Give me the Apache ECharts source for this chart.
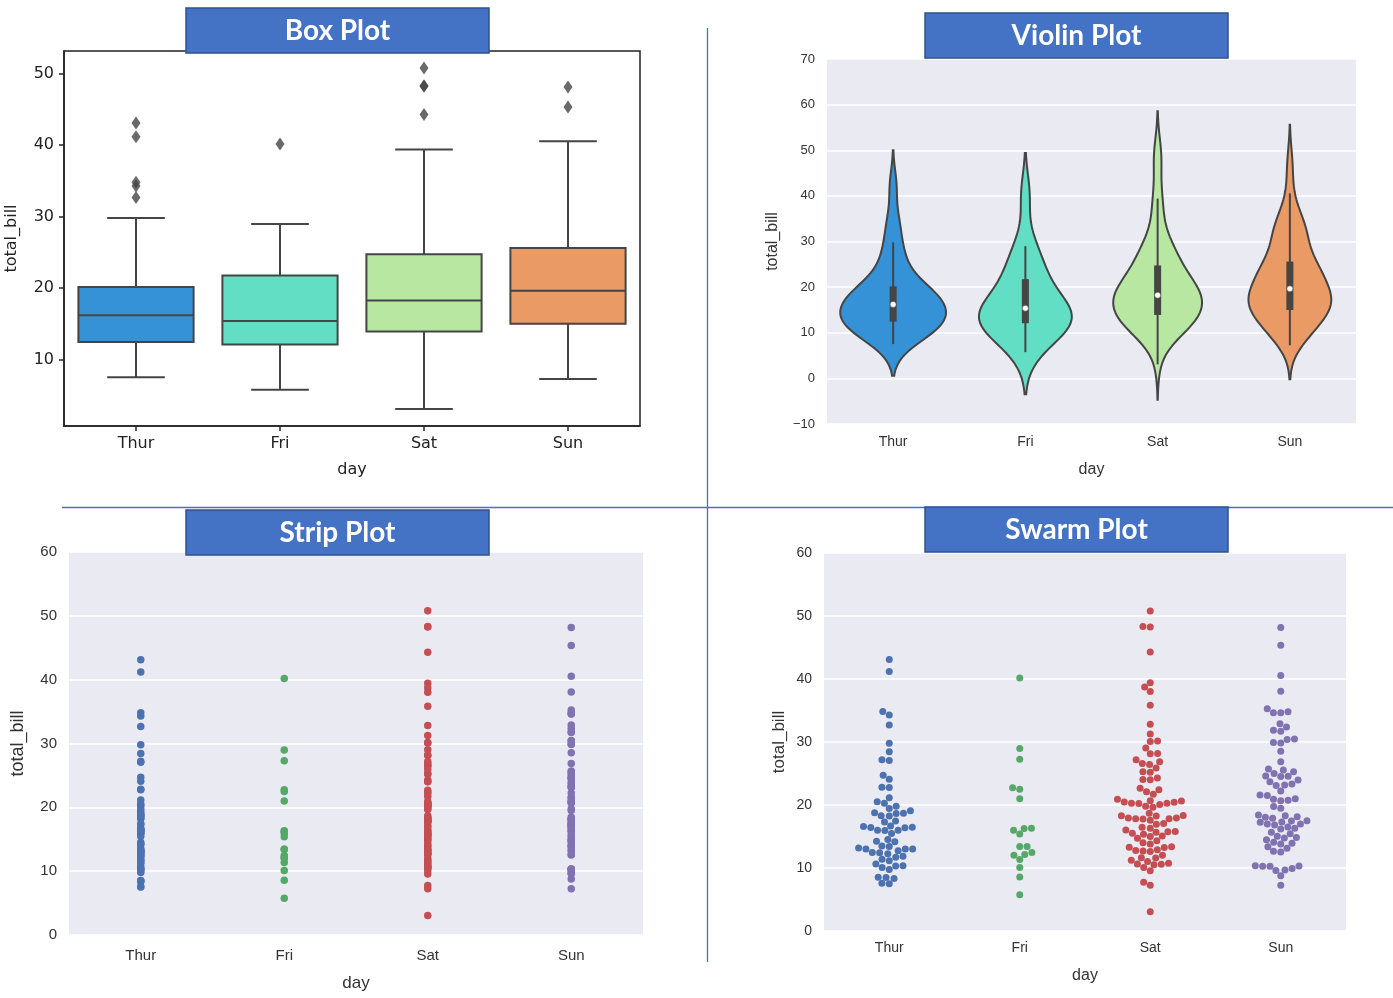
<!DOCTYPE html>
<html>
<head>
<meta charset="utf-8">
<title>Box / Violin / Strip / Swarm</title>
<script src="https://cdn.jsdelivr.net/npm/echarts@6/dist/echarts.min.js"></script>
<style>
    html, body { margin: 0; padding: 0; background: #fff; }
    #main { width: 1393px; height: 998px; }
</style>
</head>
<body>
<div id="main"></div>
<script>
// tips dataset, total_bill per day
const days = ['Thur', 'Fri', 'Sat', 'Sun'];

const thur = [27.20, 22.76, 17.29, 19.44, 16.66, 10.07, 32.68, 15.98, 34.83, 13.03, 18.28, 24.71, 21.16,
    10.65, 12.43, 24.08, 11.69, 13.42, 14.26, 15.95, 12.48, 29.80, 8.52, 14.52, 11.38, 22.82, 19.08, 20.27,
    11.17, 12.26, 18.26, 8.51, 10.33, 14.15, 16.00, 13.16, 17.47, 34.30, 41.19, 27.05, 16.43, 8.35, 18.64,
    11.87, 9.78, 7.51, 19.81, 28.44, 15.48, 16.58, 7.56, 10.34, 43.11, 13.00, 13.51, 18.71, 12.74, 13.00,
    16.40, 20.53, 16.47, 18.78];

const fri = [28.97, 22.49, 5.75, 16.32, 22.75, 40.17, 27.28, 12.03, 21.01, 12.46, 11.35, 15.38,
    12.16, 13.42, 8.58, 15.98, 13.42, 16.27, 10.09];

const sat = [20.65, 17.92, 20.29, 15.77, 39.42, 19.82, 17.81, 13.37, 12.69, 21.70, 19.65, 9.55, 18.35,
    15.06, 20.69, 17.78, 24.06, 16.31, 16.93, 18.69, 31.27, 16.04, 38.01, 26.41, 11.24, 48.27, 20.29,
    13.81, 11.02, 18.29, 17.59, 20.08, 16.45, 3.07, 20.23, 15.01, 12.02, 17.07, 26.86, 25.28, 14.73,
    10.51, 17.92, 44.30, 22.42, 20.92, 15.36, 20.49, 25.21, 18.24, 14.31, 14.00, 7.25, 10.59, 10.63,
    50.81, 15.81, 26.59, 38.73, 24.27, 12.76, 30.06, 25.89, 48.33, 13.27, 28.17, 12.90, 28.15, 11.59,
    7.74, 30.14, 20.45, 13.28, 22.12, 24.01, 15.69, 11.61, 10.77, 15.53, 10.07, 12.60, 32.83, 35.83,
    29.03, 27.18, 22.67, 17.82];

const sun = [16.99, 10.34, 21.01, 23.68, 24.59, 25.29, 8.77, 26.88, 15.04, 14.78, 10.27, 35.26, 15.42,
    18.43, 14.83, 21.58, 10.33, 16.29, 16.97, 17.46, 13.94, 9.68, 30.40, 18.29, 22.23, 32.40, 28.55,
    18.04, 12.54, 10.29, 34.81, 9.94, 25.56, 19.49, 38.07, 23.95, 25.71, 17.31, 29.93, 14.07, 13.13,
    17.26, 24.55, 19.77, 29.85, 48.17, 25.00, 13.39, 16.49, 21.50, 12.66, 16.21, 13.81, 17.51, 24.52,
    20.76, 31.71, 7.25, 31.85, 16.82, 32.90, 17.89, 14.48, 9.60, 34.63, 34.65, 23.33, 45.35, 23.17,
    40.55, 20.69, 20.90, 30.46, 18.15, 23.10, 15.69];

const boxTicks = [10, 20, 30, 40, 50];
const panelTitles = ['Box Plot', 'Violin Plot', 'Strip Plot', 'Swarm Plot'];

const groups = [thur, fri, sat, sun];
const rainbow = ['#3592d7', '#61dec3', '#b7e7a1', '#e99a65'];
const deep = ['#4c72b0', '#55a868', '#c44e52', '#8172b2'];
const gray = '#454545';

// --- stats helpers (numpy-style linear percentiles, scott kde) ---
function quantile(sorted, p) {
    var pos = (sorted.length - 1) * p;
    var lo = Math.floor(pos), hi = Math.ceil(pos);
    return sorted[lo] + (sorted[hi] - sorted[lo]) * (pos - lo);
}

function boxStats(values) {
    var s = values.slice().sort(function (a, b) { return a - b; });
    var q1 = quantile(s, 0.25), q2 = quantile(s, 0.5), q3 = quantile(s, 0.75);
    var lim = 1.5 * (q3 - q1);
    var inside = s.filter(function (v) { return v >= q1 - lim && v <= q3 + lim; });
    return {
        q1: q1, q2: q2, q3: q3,
        lo: inside[0], hi: inside[inside.length - 1],
        out: s.filter(function (v) { return v < q1 - lim || v > q3 + lim; })
    };
}

function kde(values) {
    var n = values.length;
    var mean = values.reduce(function (a, b) { return a + b; }, 0) / n;
    var sd = Math.sqrt(values.reduce(function (a, v) { return a + (v - mean) * (v - mean); }, 0) / (n - 1));
    var bw = sd * Math.pow(n, -0.2);
    var lo = Math.min.apply(null, values) - 2 * bw;
    var hi = Math.max.apply(null, values) + 2 * bw;
    var pts = [];
    for (var k = 0; k < 100; k++) {
        var y = lo + (hi - lo) * k / 99;
        var d = 0;
        values.forEach(function (v) {
            var z = (y - v) / bw;
            d += Math.exp(-0.5 * z * z);
        });
        pts.push([y, d / (n * bw * Math.sqrt(2 * Math.PI))]);
    }
    return pts;
}

const stats = groups.map(boxStats);
const curves = groups.map(kde);
const maxDensity = Math.max.apply(null, curves.map(function (c) {
    return Math.max.apply(null, c.map(function (p) { return p[1]; }));
}));

// --- custom renderers ---
function renderBox(params, api) {
    var i = api.value(0);
    var st = stats[i];
    var band = api.size([1, 0])[0];
    var cx = api.coord([i, st.q2])[0];
    var y = function (v) { return api.coord([i, v])[1]; };
    var half = band * 0.4, cap = band * 0.2;
    var line = function (x1, y1, x2, y2) {
        return { type: 'line', shape: { x1: x1, y1: y1, x2: x2, y2: y2 },
            style: { stroke: gray, lineWidth: 2 } };
    };
    return {
        type: 'group',
        children: [
            line(cx, y(st.q3), cx, y(st.hi)),
            line(cx, y(st.q1), cx, y(st.lo)),
            line(cx - cap, y(st.hi), cx + cap, y(st.hi)),
            line(cx - cap, y(st.lo), cx + cap, y(st.lo)),
            {
                type: 'rect',
                shape: { x: cx - half, y: y(st.q3), width: half * 2, height: y(st.q1) - y(st.q3) },
                style: { fill: rainbow[i], stroke: gray, lineWidth: 2 }
            },
            line(cx - half, y(st.q2), cx + half, y(st.q2))
        ]
    };
}

function renderViolin(params, api) {
    var i = api.value(0);
    var st = stats[i];
    var band = api.size([1, 0])[0];
    var cx = api.coord([i, st.q2])[0];
    var left = [], right = [];
    curves[i].forEach(function (p) {
        var py = api.coord([i, p[0]])[1];
        var w = p[1] / maxDensity * 0.4 * band;
        left.push([cx - w, py]);
        right.push([cx + w, py]);
    });
    var y = function (v) { return api.coord([i, v])[1]; };
    return {
        type: 'group',
        children: [
            {
                type: 'polygon',
                shape: { points: left.concat(right.reverse()) },
                style: { fill: rainbow[i], stroke: gray, lineWidth: 2 }
            },
            {
                type: 'line',
                shape: { x1: cx, y1: y(st.lo), x2: cx, y2: y(st.hi) },
                style: { stroke: gray, lineWidth: 2 }
            },
            {
                type: 'line',
                shape: { x1: cx, y1: y(st.q1), x2: cx, y2: y(st.q3) },
                style: { stroke: gray, lineWidth: 7 }
            },
            {
                type: 'circle',
                shape: { cx: cx, cy: y(st.q2), r: 3 },
                style: { fill: '#fff', stroke: gray, lineWidth: 0.5 }
            }
        ]
    };
}

// --- axes ---
const darkLabel = { color: '#333', fontFamily: 'Liberation Sans, Arial, sans-serif' };

function seabornX(gridIndex, fontSize, margin, nameGap) {
    return {
        type: 'category', gridIndex: gridIndex, data: days,
        axisLine: { show: false }, axisTick: { show: false },
        axisLabel: Object.assign({ fontSize: fontSize, margin: margin }, darkLabel),
        splitLine: { show: false },
        name: 'day', nameLocation: 'middle', nameGap: nameGap,
        nameTextStyle: Object.assign({ fontSize: fontSize + 2 }, darkLabel)
    };
}

function seabornY(gridIndex, min, max, fontSize, nameGap) {
    return {
        type: 'value', gridIndex: gridIndex, min: min, max: max, interval: 10,
        axisLine: { show: false }, axisTick: { show: false },
        axisLabel: Object.assign({
            fontSize: fontSize, margin: 12,
            formatter: function (v) { return String(v).replace('-', '\u2212'); }
        }, darkLabel),
        splitLine: { show: true, lineStyle: { color: '#fff', width: 1.6 } },
        name: 'total_bill', nameLocation: 'middle', nameGap: nameGap, nameRotate: 90,
        nameTextStyle: Object.assign({ fontSize: fontSize + 3 }, darkLabel)
    };
}

const boxFont = { color: '#222', fontFamily: 'DejaVu Sans, sans-serif' };

const option = {
    animation: false,
    backgroundColor: '#fff',
    grid: [
        { left: 64, top: 51, width: 576, height: 375, show: true, borderColor: '#222', borderWidth: 1.5, backgroundColor: '#fff' },
        { left: 827, top: 59, width: 529, height: 365, show: true, borderWidth: 0, backgroundColor: '#eaeaf2' },
        { left: 69, top: 552, width: 574, height: 383, show: true, borderWidth: 0, backgroundColor: '#eaeaf2' },
        { left: 824, top: 553, width: 522, height: 378, show: true, borderWidth: 0, backgroundColor: '#eaeaf2' }
    ],
    xAxis: [
        {
            type: 'category', gridIndex: 0, data: days,
            axisLine: { show: true, lineStyle: { color: '#222', width: 1.5 } },
            axisTick: { show: true, alignWithLabel: true, length: 5, lineStyle: { color: '#222', width: 1.5 } },
            axisLabel: Object.assign({ fontSize: 16, margin: 10 }, boxFont),
            splitLine: { show: false },
            name: 'day', nameLocation: 'middle', nameGap: 36,
            nameTextStyle: Object.assign({ fontSize: 16 }, boxFont)
        },
        seabornX(1, 14, 11, 38),
        seabornX(2, 15, 13, 40),
        seabornX(3, 14, 10, 37),
        { type: 'value', gridIndex: 3, min: -0.5, max: 3.5, show: false }
    ],
    yAxis: [
        {
            type: 'value', gridIndex: 0, min: 0.68, max: 53.2,
            axisLine: { show: true, lineStyle: { color: '#222', width: 1.5 } },
            axisTick: { show: true, length: 5, customValues: boxTicks, lineStyle: { color: '#222', width: 1.5 } },
            axisLabel: Object.assign({ fontSize: 16, margin: 10, customValues: boxTicks }, boxFont),
            splitLine: { show: false },
            name: 'total_bill', nameLocation: 'middle', nameGap: 44, nameRotate: 90,
            nameTextStyle: Object.assign({ fontSize: 16 }, boxFont)
        },
        seabornY(1, -10, 70, 13, 46),
        seabornY(2, 0, 60, 15, 42),
        seabornY(3, 0, 60, 14, 36)
    ],
    graphic: [],
    series: []
};

// box plot
option.series.push({
    type: 'custom', id: 'box', xAxisIndex: 0, yAxisIndex: 0,
    data: days.map(function (d, i) { return [i, stats[i].q2]; }),
    encode: { x: 0, y: 1 },
    renderItem: renderBox
});
option.series.push({
    type: 'scatter', id: 'outliers', xAxisIndex: 0, yAxisIndex: 0,
    symbol: 'diamond', symbolSize: [9, 13],
    itemStyle: { color: gray },
    data: [].concat.apply([], stats.map(function (st, i) {
        return st.out.map(function (v) { return [i, v]; });
    }))
});

// violin plot
option.series.push({
    type: 'custom', id: 'violin', xAxisIndex: 1, yAxisIndex: 1,
    data: days.map(function (d, i) { return [i, stats[i].q2]; }),
    encode: { x: 0, y: 1 },
    renderItem: renderViolin
});

// strip plot
groups.forEach(function (vals, i) {
    option.series.push({
        type: 'scatter', id: 'strip' + i, xAxisIndex: 2, yAxisIndex: 2,
        symbolSize: 7.5, itemStyle: { color: deep[i], opacity: 1 },
        data: vals.map(function (v) { return [i, v]; })
    });
});

// swarm plot (positions filled after layout)
groups.forEach(function (vals, i) {
    option.series.push({
        type: 'scatter', id: 'swarm' + i, xAxisIndex: 4, yAxisIndex: 3,
        symbolSize: 7, itemStyle: { color: deep[i], opacity: 1 },
        data: []
    });
});

// decoration: divider lines and title boxes
option.graphic.push(
    { type: 'line', z: 100, shape: { x1: 707.5, y1: 28, x2: 707.5, y2: 962 }, style: { stroke: '#4472c4', lineWidth: 1.3 } },
    { type: 'line', z: 100, shape: { x1: 62, y1: 507.5, x2: 1393, y2: 507.5 }, style: { stroke: '#4472c4', lineWidth: 1.3 } }
);
const titlePos = [[186, 8], [925, 13], [186, 510], [925, 507]];
panelTitles.forEach(function (t, k) {
    option.graphic.push({
        type: 'group', x: titlePos[k][0], y: titlePos[k][1], z: 110,
        children: [
            { type: 'rect', z: 110, shape: { x: 0, y: 0, width: 303, height: 45 },
              style: { fill: '#4472c4', stroke: '#2f528f', lineWidth: 1.5 } },
            { type: 'text', z: 111, x: 151.5, y: 23,
              style: { text: t, fill: '#fff', fontSize: 28, fontWeight: 'bold',
                       fontFamily: 'Lato, Open Sans, sans-serif', align: 'center', verticalAlign: 'middle' } }
        ]
    });
});

const chart = echarts.init(document.getElementById('main'));
chart.setOption(option);

// beeswarm layout (seaborn algorithm), in pixel space
function beeswarm(values, dayIdx, d) {
    var sorted = values.slice().sort(function (a, b) { return a - b; });
    var ys = sorted.map(function (v) { return -chart.convertToPixel({ yAxisIndex: 3 }, v); });
    var placed = [];
    ys.forEach(function (y, k) {
        if (k === 0) { placed.push([0, y]); return; }
        var neighbors = [];
        for (var j = placed.length - 1; j >= 0; j--) {
            if (y - placed[j][1] < d) neighbors.unshift(placed[j]);
            else break;
        }
        var cands = [[0, y]];
        var leftFirst = true;
        neighbors.forEach(function (nb) {
            var dy = y - nb[1];
            var dx = Math.sqrt(Math.max(d * d - dy * dy, 0)) * 1.05;
            var cl = [nb[0] - dx, y], cr = [nb[0] + dx, y];
            if (leftFirst) cands.push(cl, cr); else cands.push(cr, cl);
            leftFirst = !leftFirst;
        });
        cands = cands.map(function (c, o) { return { c: c, o: o }; })
            .sort(function (a, b) { return Math.abs(a.c[0]) - Math.abs(b.c[0]) || a.o - b.o; })
            .map(function (e) { return e.c; });
        var ok = cands.find(function (c) {
            return neighbors.every(function (nb) {
                return (nb[0] - c[0]) * (nb[0] - c[0]) + (nb[1] - c[1]) * (nb[1] - c[1]) >= d * d - 1e-6;
            });
        });
        placed.push(ok || [0, y]);
    });
    var unit = chart.convertToPixel({ xAxisIndex: 4 }, 1) - chart.convertToPixel({ xAxisIndex: 4 }, 0);
    return placed.map(function (p, k) { return [dayIdx + p[0] / unit, sorted[k]]; });
}

chart.setOption({
    series: groups.map(function (vals, i) {
        return { id: 'swarm' + i, data: beeswarm(vals, i, 7) };
    })
});
</script>
</body>
</html>
